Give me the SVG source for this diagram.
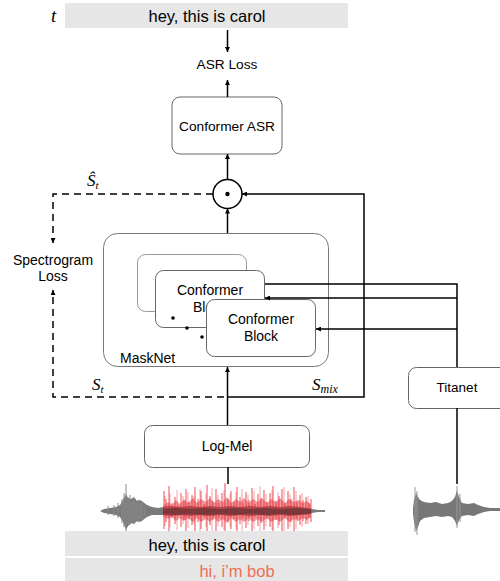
<svg xmlns="http://www.w3.org/2000/svg" width="500" height="581" viewBox="0 0 500 581">
<style>
.box{fill:#fff;stroke:#666;stroke-width:1}
.lbl{font-family:"Liberation Sans",Arial,sans-serif;font-size:14px;fill:#000;text-anchor:middle}
.math{font-family:"Liberation Serif","Times New Roman",serif;font-style:italic;fill:#000}
.ln{fill:none;stroke:#000;stroke-width:1.5}
.dash{fill:none;stroke:#000;stroke-width:1.5;stroke-dasharray:7 5}
.bar{fill:#e6e6e6}
</style>
<defs>
<marker id="ah" viewBox="0 0 10 10" refX="10" refY="5" markerWidth="5" markerHeight="5" orient="auto" markerUnits="userSpaceOnUse">
<path d="M0,0 L10,5 L0,10 z" fill="#000"/>
</marker>
</defs>

<g id="target-top">
<rect class="bar" x="65" y="3" width="283" height="25"/>
<text class="lbl" x="207" y="22" style="font-size:16.5px">hey, this is carol</text>
<text class="math" x="51" y="22" style="font-size:19px">t</text>
</g>

<g id="asr-loss"><text class="lbl" x="227" y="69" style="font-size:13.7px">ASR Loss</text></g>

<g id="conformer-asr">
<rect class="box" x="172" y="97" width="110" height="57" rx="8"/>
<text class="lbl" x="227" y="131" style="font-size:13.7px">Conformer ASR</text>
</g>

<g id="multiply">
<circle cx="227.5" cy="194" r="14.5" fill="#fff" stroke="#000" stroke-width="1.5"/>
<circle cx="227.5" cy="194" r="2.2" fill="#000"/>
</g>

<g id="spectrogram-loss">
<text class="lbl" x="53" y="265">Spectrogram</text>
<text class="lbl" x="53" y="281">Loss</text>
</g>

<g id="masknet">
<rect x="103.5" y="233.5" width="225" height="133" rx="14" fill="#fff" stroke="#777" stroke-width="1"/>
<text x="120" y="363" style="font-family:'Liberation Sans',Arial,sans-serif;font-size:14px">MaskNet</text>
<rect x="137.5" y="254.5" width="109" height="57" rx="8" fill="#fff" stroke="#999" stroke-width="1"/>
<rect class="box" x="155.5" y="270.5" width="109" height="57" rx="8"/>
<text class="lbl" x="210" y="295">Conformer</text>
<text class="lbl" x="210" y="312">Block</text>
<circle cx="173" cy="318" r="1.8" fill="#000"/>
<circle cx="187" cy="328" r="1.8" fill="#000"/>
<circle cx="202" cy="337" r="1.8" fill="#000"/>
<rect class="box" x="206.5" y="299.5" width="109" height="57" rx="8"/>
<text class="lbl" x="261" y="324">Conformer</text>
<text class="lbl" x="261" y="341">Block</text>
</g>

<g id="labels-math">
<text class="math" x="87" y="186" style="font-size:17px">Ŝ<tspan dy="3" style="font-size:11px">t</tspan></text>
<text class="math" x="92" y="390" style="font-size:17px">S<tspan dy="3" style="font-size:11px">t</tspan></text>
<text class="math" x="312" y="390" style="font-size:17px">S<tspan dy="3" style="font-size:12px">mix</tspan></text>
</g>

<g id="titanet">
<rect class="box" x="408.5" y="367.5" width="100" height="41" rx="8"/>
<text class="lbl" x="457" y="392" style="font-size:13.5px">Titanet</text>
</g>

<g id="log-mel">
<rect class="box" x="144.5" y="425.5" width="165" height="42" rx="8"/>
<text class="lbl" x="227" y="451">Log-Mel</text>
</g>

<g id="connectors">
<line class="ln" x1="227.5" y1="30" x2="227.5" y2="52" marker-end="url(#ah)"/>
<line class="ln" x1="227.5" y1="97" x2="227.5" y2="80" marker-end="url(#ah)"/>
<line class="ln" x1="227.5" y1="179" x2="227.5" y2="154" marker-end="url(#ah)"/>
<line class="ln" x1="227.5" y1="233" x2="227.5" y2="208.5" marker-end="url(#ah)"/>
<polyline class="ln" points="227.5,397 364,397 364,194 242,194" marker-end="url(#ah)"/>
<polyline class="dash" points="213,194 53,194 53,243" marker-end="url(#ah)"/>
<polyline class="dash" points="224,397 53,397 53,290" marker-end="url(#ah)"/>
<line class="ln" x1="227.5" y1="425" x2="227.5" y2="367" marker-end="url(#ah)"/>
<line class="ln" x1="228" y1="484" x2="228" y2="467"/>
<line class="ln" x1="457" y1="484" x2="457" y2="408"/>
<polyline class="ln" points="457,367 457,284 265,284"/>
<line class="ln" x1="457" y1="298" x2="265" y2="298" marker-end="url(#ah)"/>
<line class="ln" x1="457" y1="329" x2="316" y2="329" marker-end="url(#ah)"/>
</g>

<g id="waveform-mix">
<polygon fill="#7a7a7a" points="100,511 104,509 110,508 116,507 120,505 123,500 126,494 128,498 131,499 134,497 137,501 140,500 143,502 147,505 152,507 158,508 163,507 170,506 180,507 190,506 200,507 210,506 220,507 230,506 240,507 250,506 260,507 270,506 280,507 290,506 300,507 308,508 312,509 318,510 325,510 325,512 318,512 312,513 308,514 300,515 290,516 280,515 270,516 260,515 250,516 240,515 230,516 220,515 210,516 200,515 190,516 180,515 170,516 163,515 158,515 152,515 147,517 143,520 140,522 137,521 134,524 131,523 128,526 126,530 123,522 120,517 116,515 110,514 104,513"/>
<path stroke="#8a8a8a" stroke-width="1" fill="none" d="M122 499V523M124 493V527M126 484V535M128 497V524M130 495V525M132 501V521M134 498V523M136 502V520M138 500V522M140 503V519M142 501V521M145 505V517M118 503V518M114 505V516M108 506V515"/>
<polygon fill="#d82028" fill-opacity="0.45" points="163,506 168,502 172,505 176,500 180,504 184,499 188,503 193,498 197,503 201,499 206,502 210,498 214,503 218,499 223,502 227,497 231,503 236,499 240,502 244,498 249,503 253,499 258,502 262,498 267,503 271,499 276,502 280,498 285,503 289,499 294,502 298,500 303,503 307,501 311,505 311,517 307,520 303,518 298,521 294,519 289,522 285,518 280,522 276,519 271,522 267,518 262,522 258,519 253,522 249,518 244,522 240,519 236,522 231,518 227,523 223,519 218,522 214,518 210,522 206,519 201,522 197,518 193,522 188,518 184,521 180,518 176,521 172,517 168,519 163,516"/>
<path stroke="#e8202a" stroke-width="1" stroke-opacity="0.8" fill="none" d="M164 491V529M166 499V522M169 486V534M172 503V518M175 497V524M178 505V516M181 493V527M184 501V520M186 489V531M189 502V519M192 495V525M195 487V533M198 499V522M201 491V529M204 504V517M207 485V534M210 496V525M213 501V520M216 489V531M219 503V518M222 493V527M225 483V536M228 499V522M231 491V529M234 502V519M237 487V533M240 497V524M243 503V518M246 492V528M249 500V521M252 488V532M255 504V517M258 494V526M261 498V523M264 490V530M267 502V519M270 493V527M273 486V534M276 501V520M279 496V525M282 489V531M285 503V518M288 491V529M291 499V522M294 487V533M297 502V519M300 495V525M303 500V521M306 497V524M309 503V518M311 499V522"/>
<path stroke="#f04048" stroke-width="1.4" stroke-opacity="0.35" fill="none" d="M165 496V526M170 494V527M177 490V530M183 496V524M188 492V528M194 496V524M200 489V531M206 494V527M212 488V532M218 495V526M224 490V530M230 494V527M236 492V529M242 489V531M248 495V525M254 491V529M260 486V533M266 494V526M272 490V530M278 492V528M284 487V532M290 494V527M296 491V529M302 493V527M308 496V524"/>
<polygon fill="#4a3030" fill-opacity="0.55" points="163,509 175,508 190,509 205,508 220,509 235,508 250,509 265,508 280,509 295,508 311,509 311,514 295,515 280,514 265,515 250,514 235,515 220,514 205,515 190,514 175,515 163,514"/>
</g>

<g id="waveform-ref">
<polygon fill="#777" points="413,508 414,500 416,493 418,497 420,500 424,502 430,503 436,502 442,504 448,503 452,501 455,497 457,490 459,497 462,503 468,504 474,503 478,505 484,507 490,508 500,508 500,511 490,511 484,512 478,514 474,516 468,515 462,516 459,520 457,526 455,521 452,517 448,516 442,517 436,516 430,517 424,518 420,521 418,527 416,531 414,522 413,514"/>
<path stroke="#999" stroke-width="1" fill="none" d="M415 487V532M417 491V535M457 486V528M460 494V522"/>
</g>

<g id="targets-bottom">
<rect class="bar" x="65" y="531" width="283" height="25"/>
<text class="lbl" x="207" y="551" style="font-size:16.5px">hey, this is carol</text>
<rect class="bar" x="65" y="558" width="283" height="23"/>
<text class="lbl" x="237" y="577" style="font-size:16.5px;fill:#ee6f55">hi, i’m bob</text>
</g>
</svg>
